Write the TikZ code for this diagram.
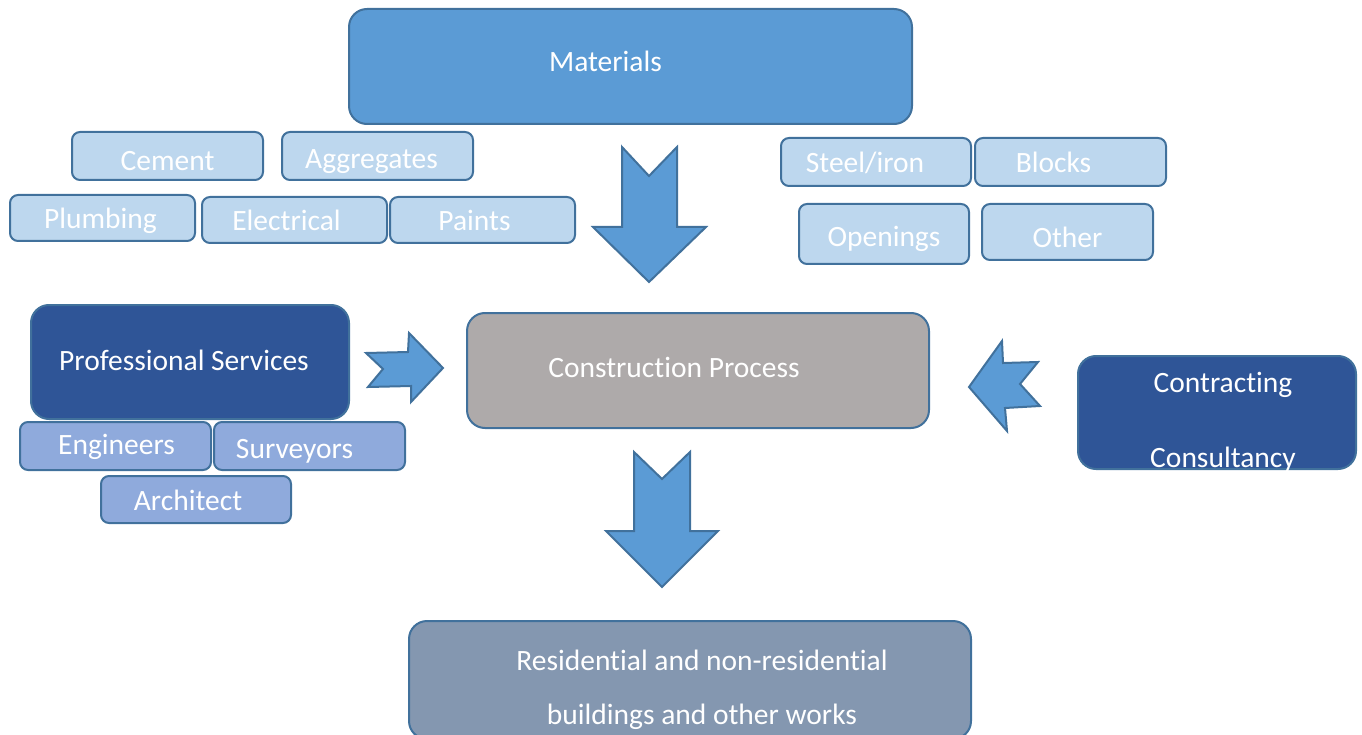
\documentclass[tikz,border=0pt]{standalone}
\usepackage{fontspec}
\setmainfont{Carlito}[Ligatures=CommonOff]
\usepackage{xcolor}
\usepackage{tikz}
\usetikzlibrary{arrows.meta, positioning}
\definecolor{matblue}{HTML}{5B9BD5}
\definecolor{edgeblue}{HTML}{41719C}
\definecolor{paleblue}{HTML}{BDD7EE}
\definecolor{navyblue}{HTML}{2F5597}
\definecolor{midblue}{HTML}{8FAADC}
\definecolor{stonegrey}{HTML}{AEAAAA}
\definecolor{slateblue}{HTML}{8497B0}
\tikzset{
  font=\fontsize{29.5}{35}\selectfont,   % one text size throughout
  tag/.style        = {text=white, inner sep=0pt},
  word/.style       = {tag, text height=21pt, text depth=0pt}, % same baseline for every word
  panel/.style      = {rectangle, draw=edgeblue, line width=2pt,
                       rounded corners=18pt, inner sep=0pt},
  chip/.style       = {rectangle, draw=edgeblue, line width=2pt,
                       rounded corners=8pt, inner sep=0pt, fill=paleblue},
  staff/.style      = {chip, fill=midblue},
  blockarrow/.style = {draw=edgeblue, line width=2pt, fill=matblue,
                       line join=miter}
}

\begin{document}
\begin{tikzpicture}[x=1pt, y=-1pt]
  \clip (0,0) rectangle (1362,735);
  % material supply
  \node[panel, fill=matblue, minimum width=563, minimum height=115,
        label={[word, xshift=-25, yshift=5]center:Materials}] (materials) at (630.5,66.5) {};
  \node[chip, minimum width=191, minimum height=48,
        label={[word, yshift=-4]center:Cement}] (cement) at (167.5,156) {};
  \node[chip, minimum width=191, minimum height=48,
        label={[word, xshift=-6, yshift=-2]center:Aggregates}] (aggregates) at (377.5,156) {};
  \node[chip, minimum width=185, minimum height=46,
        label={[word, xshift=-2]center:Plumbing}] (plumbing) at (102.5,218) {};
  \node[chip, minimum width=185, minimum height=46,
        label={[word, xshift=-8]center:Electrical}] (electrical) at (294.5,220) {};
  \node[chip, minimum width=185, minimum height=46,
        label={[word, xshift=-8]center:Paints}] (paints) at (482.5,220) {};
  \node[chip, minimum width=190, minimum height=48,
        label={[word, xshift=-11]center:Steel/iron}] (steel) at (876,162) {};
  \node[chip, minimum width=191, minimum height=48,
        label={[word, xshift=-17]center:Blocks}] (blocks) at (1070.5,162) {};
  \node[chip, minimum width=170, minimum height=60,
        label={[word, yshift=-2]center:Openings}] (openings) at (884,234) {};
  \node[chip, minimum width=171, minimum height=56,
        label={[word, yshift=-5]center:Other}] (other) at (1067.5,232) {};

  % people and firms
  \node[panel, fill=navyblue, minimum width=318, minimum height=114,
        label={[word, xshift=-6, yshift=2]center:Professional Services}] (profsvc) at (190,362) {};
  \node[staff, minimum width=191, minimum height=48,
        label={[word, xshift=1, yshift=2]center:Engineers}] (engineers) at (115.5,446) {};
  \node[staff, minimum width=191, minimum height=48,
        label={[word, xshift=-15, yshift=-2]center:Surveyors}] (surveyors) at (309.5,446) {};
  \node[staff, minimum width=190, minimum height=47,
        label={[word, xshift=-8]center:Architect}] (architect) at (196,499.5) {};
  \node[panel, fill=navyblue, minimum width=278, minimum height=113,
        label={[tag, align=center, font=\fontsize{29.5}{75}\selectfont,
                xshift=6, yshift=-10]center:Contracting\\Consultancy}] (contract) at (1217,412.5) {};

  % process and output
  \node[panel, fill=stonegrey, minimum width=462, minimum height=115,
        label={[word, xshift=-24, yshift=4]center:Construction Process}] (process) at (698,370.5) {};
  \node[panel, fill=slateblue, minimum width=562, minimum height=118,
        label={[tag, align=center, font=\fontsize{29.5}{54}\selectfont,
                xshift=12, yshift=-10]center:Residential and non-residential\\buildings and other works}] (output) at (690,680) {};

  % block arrows
  \draw[blockarrow] (622,147) -- (649,176) -- (677,147) -- (677,227) -- (706,227)
                    -- (649,282) -- (593,227) -- (622,227) -- cycle;
  \draw[blockarrow] (366,353) -- (408,352) -- (409,333) -- (443,368) -- (411,402)
                    -- (411,386) -- (368,387) -- (383,369) -- cycle;
  \draw[blockarrow] (969,387) -- (1002,341) -- (1003,363) -- (1038,362) -- (1020,384)
                    -- (1040,406) -- (1005,408) -- (1007,431) -- cycle;
  \draw[blockarrow] (634,452) -- (662,479) -- (690,452) -- (690,531) -- (718,531)
                    -- (662,587) -- (606,531) -- (634,531) -- cycle;
\end{tikzpicture}
\end{document}
